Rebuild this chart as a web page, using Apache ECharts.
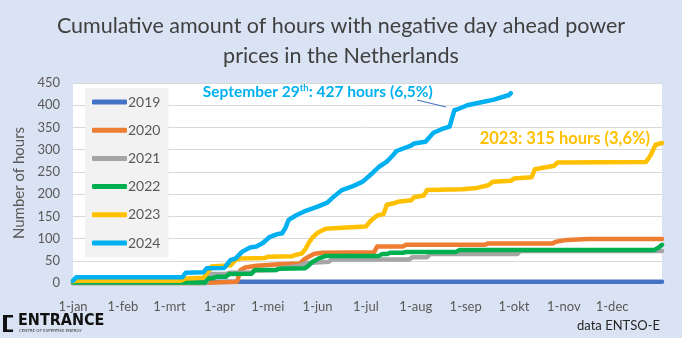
<!DOCTYPE html>
<html>
<head>
<meta charset="utf-8">
<script src="https://cdn.jsdelivr.net/npm/echarts@6/dist/echarts.min.js"></script>
<style>
  html, body { margin: 0; padding: 0; background: #dae3f3; }
  #chart { width: 682px; height: 338px; }
</style>
</head>
<body>
<div id="chart"></div>
<script>
// Day of year (0 = 1 January) at which each month starts, and its axis label
const monthStartDays = [0, 31, 60, 91, 121, 152, 182, 213, 244, 274, 305, 335];
const monthLabels = ['1-jan', '1-feb', '1-mrt', '1-apr', '1-mei', '1-jun', '1-jul', '1-aug', '1-sep', '1-okt', '1-nov', '1-dec'];

const years = ['2019', '2020', '2021', '2022', '2023', '2024'];
const yearColors = ['#4472c4', '#ed7d31', '#a5a5a5', '#00b050', '#ffc000', '#00b0f0'];

// Cumulative hours with a negative day-ahead price: [day of year, hours]
const hours2019 = [[0, 3], [366, 3]];
const hours2020 = [[0, 0], [79, 0], [80, 3], [102, 3], [104, 29], [107, 35], [114, 39], [128, 42], [141, 44], [142, 48], [144, 54], [147, 60], [150, 66], [155, 68], [187, 69], [189, 82], [205, 82], [207, 86], [256, 86], [258, 89], [298, 89], [300, 93], [307, 97], [320, 99], [366, 99]];
const hours2021 = [[0, 0], [83, 0], [84, 20], [95, 20], [97, 23], [111, 24], [113, 28], [126, 29], [128, 33], [140, 38], [145, 45], [159, 48], [161, 53], [209, 53], [211, 58], [220, 58], [222, 65], [276, 65], [278, 72], [366, 72]];
const hours2022 = [[0, 1], [82, 1], [84, 10], [87, 11], [89, 14], [95, 14], [97, 20], [111, 21], [113, 29], [126, 29], [128, 32], [144, 33], [146, 38], [149, 48], [151, 52], [153, 56], [155, 58], [157, 61], [190, 61], [192, 65], [195, 65], [197, 68], [205, 68], [207, 70], [238, 70], [240, 74], [361, 74], [364, 80], [366, 86]];
const hours2023 = [[0, 4], [3, 5], [67, 5], [70, 10], [81, 12], [84, 25], [86, 37], [98, 40], [101, 52], [104, 55], [119, 56], [121, 59], [136, 60], [138, 63], [142, 66], [144, 74], [147, 93], [149, 103], [152, 113], [157, 122], [170, 125], [182, 127], [185, 140], [189, 152], [193, 155], [195, 176], [200, 180], [202, 183], [210, 186], [212, 193], [218, 197], [220, 209], [242, 211], [251, 214], [258, 220], [261, 228], [272, 230], [274, 235], [285, 238], [287, 256], [293, 260], [299, 264], [301, 271], [356, 272], [359, 288], [362, 311], [366, 315]];
const hours2024 = [[0, 5], [2, 13], [68, 13], [70, 23], [81, 24], [83, 33], [94, 34], [98, 52], [101, 55], [105, 70], [110, 80], [114, 82], [118, 90], [122, 103], [127, 110], [130, 112], [132, 124], [134, 142], [139, 153], [145, 163], [152, 172], [158, 181], [161, 191], [167, 209], [174, 218], [180, 228], [186, 247], [190, 261], [195, 273], [199, 288], [201, 297], [210, 309], [212, 314], [219, 318], [224, 338], [229, 346], [234, 352], [237, 389], [239, 391], [245, 400], [253, 406], [261, 412], [271, 423], [272, 427]];

const yearSeries = [hours2019, hours2020, hours2021, hours2022, hours2023, hours2024];

const yTicks = { min: 0, max: 450, step: 50 };

const FONT = 'Lato, "Open Sans", sans-serif';

const chart = echarts.init(document.getElementById('chart'), null, { renderer: 'canvas' });

const last2024 = hours2024[hours2024.length - 1];
const last2023 = hours2023[hours2023.length - 1];

const series = years.map((name, i) => ({
  name,
  type: 'line',
  data: yearSeries[i],
  showSymbol: false,
  symbol: 'none',
  clip: false,
  animation: false,
  lineStyle: { color: yearColors[i], width: 4.5, cap: 'round', join: 'round' },
  itemStyle: { color: yearColors[i] },
  z: 2 + i
}));

// Annotation on the 2024 line: latest value with pointer arrow
series[5].markPoint = {
  symbol: 'circle',
  symbolSize: 1,
  itemStyle: { color: 'rgba(0,0,0,0)' },
  animation: false,
  data: [{
    coord: last2024,
    label: {
      show: true,
      position: 'inside',
      align: 'right',
      verticalAlign: 'middle',
      offset: [-78, -1],
      formatter: '{b|September 29}{s|th}{b|: ' + last2024[1] + ' hours (6,5%)}',
      rich: {
        b: { fontFamily: FONT, fontWeight: 'bold', fontSize: 15.5, color: '#00b0f0', lineHeight: 19 },
        s: { fontFamily: FONT, fontWeight: 'bold', fontSize: 9.5, color: '#00b0f0', lineHeight: 19, verticalAlign: 'top' }
      }
    }
  }]
};
series[5].markLine = {
  silent: true,
  animation: false,
  symbol: ['none', 'arrow'],
  symbolSize: [0, 10],
  lineStyle: { color: '#4472c4', width: 1.2, type: 'solid' },
  label: { show: false },
  data: [[{ coord: [213.8, 411.8] }, { coord: [231.8, 396] }]]
};

// Annotation on the 2023 line: year-end total
series[4].markPoint = {
  symbol: 'circle',
  symbolSize: 1,
  itemStyle: { color: 'rgba(0,0,0,0)' },
  animation: false,
  data: [{
    coord: last2023,
    label: {
      show: true,
      position: 'inside',
      align: 'right',
      verticalAlign: 'middle',
      offset: [-12, -4],
      formatter: '2023: ' + last2023[1] + ' hours (3,6%)',
      fontFamily: FONT, fontWeight: 'bold', fontSize: 16.5, color: '#ffc000'
    }
  }]
};

chart.setOption({
  backgroundColor: '#dae3f3',
  animation: false,
  title: {
    text: 'Cumulative amount of hours with negative day ahead power\nprices in the Netherlands',
    left: 'center',
    top: 6,
    textStyle: { fontFamily: FONT, fontWeight: 'normal', fontSize: 21.5, lineHeight: 30, color: '#404040' }
  },
  grid: { left: 73, right: 20, top: 83, bottom: 55, show: true, backgroundColor: '#ffffff', borderWidth: 0 },
  legend: {
    orient: 'vertical',
    left: 85,
    top: 88,
    data: years,
    backgroundColor: '#f2f2f2',
    padding: [6, 8, 6, 7],
    itemGap: 12.2,
    itemWidth: 35,
    itemHeight: 5,
    icon: 'roundRect',
    textStyle: { fontFamily: FONT, fontSize: 14, color: '#595959', lineHeight: 16, padding: [0, 0, 0, -4] }
  },
  xAxis: {
    type: 'value',
    min: 0,
    max: 366,
    axisLine: { show: true, lineStyle: { color: '#d9d9d9' } },
    axisTick: { show: false },
    splitLine: { show: false },
    axisLabel: {
      customValues: monthStartDays,
      formatter: v => monthLabels[monthStartDays.indexOf(v)],
      fontFamily: FONT, fontSize: 13, color: '#595959', margin: 17
    }
  },
  yAxis: {
    type: 'value',
    min: yTicks.min,
    max: yTicks.max,
    interval: yTicks.step,
    name: 'Number of hours',
    nameLocation: 'middle',
    nameGap: 36,
    nameRotate: 90,
    nameTextStyle: { fontFamily: FONT, fontSize: 15, color: '#595959' },
    axisLine: { show: false },
    axisTick: { show: false },
    splitLine: { lineStyle: { color: '#d9d9d9', width: 1 } },
    axisLabel: { fontFamily: FONT, fontSize: 13, color: '#595959', margin: 13 }
  },
  graphic: [
    // ENTRANCE logo: bracket and word mark
    { type: 'rect', left: 3, top: 315, shape: { width: 4, height: 17 }, style: { fill: '#111111' } },
    { type: 'rect', left: 3, top: 315, shape: { width: 10, height: 2.5 }, style: { fill: '#111111' } },
    { type: 'rect', left: 3, top: 329.5, shape: { width: 10, height: 2.5 }, style: { fill: '#111111' } },
    { type: 'text', left: 18, top: 313, style: { text: 'ENTRANCE', fontFamily: '"Liberation Sans Narrow", "DejaVu Sans Condensed", sans-serif', fontWeight: 'bold', fontSize: 16, fill: '#111111' } },
    { type: 'text', left: 19, top: 329, style: { text: 'CENTRE OF EXPERTISE ENERGY', fontFamily: '"DejaVu Sans", sans-serif', fontSize: 4, fill: '#333333' } },
    { type: 'text', right: 22, top: 319, style: { text: 'data ENTSO-E', fontFamily: FONT, fontSize: 13, fill: '#262626' } }
  ],
  series
});
</script>
</body>
</html>
